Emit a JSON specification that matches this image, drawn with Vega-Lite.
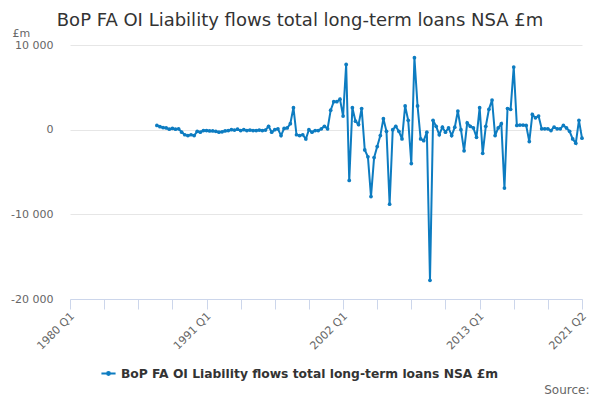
{
  "$schema": "https://vega.github.io/schema/vega-lite/v6.json",
  "width": 512,
  "height": 254,
  "autosize": {"type": "none"},
  "padding": {"left": 70, "top": 45, "right": 18, "bottom": 101},
  "background": "white",
  "config": {"view": {"stroke": null}, "font": "DejaVu Sans"},
  "title": {
    "text": "BoP FA OI Liability flows total long-term loans NSA £m",
    "font": "DejaVu Sans", "fontSize": 18, "fontWeight": "normal", "color": "#333333",
    "anchor": "middle", "frame": "group", "dx": -26, "offset": -3
  },
  "data": {"values": [
    {"date":"1987-01-01","value":500},{"date":"1987-04-01","value":350},{"date":"1987-07-01","value":250},{"date":"1987-10-01","value":200},
    {"date":"1988-01-01","value":50},{"date":"1988-04-01","value":150},{"date":"1988-07-01","value":50},{"date":"1988-10-01","value":100},
    {"date":"1989-01-01","value":-300},{"date":"1989-04-01","value":-600},{"date":"1989-07-01","value":-700},{"date":"1989-10-01","value":-600},
    {"date":"1990-01-01","value":-700},{"date":"1990-04-01","value":-200},{"date":"1990-07-01","value":-300},{"date":"1990-10-01","value":-100},
    {"date":"1991-01-01","value":-100},{"date":"1991-04-01","value":-150},{"date":"1991-07-01","value":-150},{"date":"1991-10-01","value":-200},
    {"date":"1992-01-01","value":-300},{"date":"1992-04-01","value":-250},{"date":"1992-07-01","value":-150},{"date":"1992-10-01","value":-100},
    {"date":"1993-01-01","value":0},{"date":"1993-04-01","value":-50},{"date":"1993-07-01","value":50},{"date":"1993-10-01","value":-100},
    {"date":"1994-01-01","value":0},{"date":"1994-04-01","value":-100},{"date":"1994-07-01","value":-50},{"date":"1994-10-01","value":-100},
    {"date":"1995-01-01","value":-100},{"date":"1995-04-01","value":-50},{"date":"1995-07-01","value":-100},{"date":"1995-10-01","value":-50},
    {"date":"1996-01-01","value":400},{"date":"1996-04-01","value":-300},{"date":"1996-07-01","value":0},{"date":"1996-10-01","value":100},
    {"date":"1997-01-01","value":-700},{"date":"1997-04-01","value":150},{"date":"1997-07-01","value":200},{"date":"1997-10-01","value":700},
    {"date":"1998-01-01","value":2600},{"date":"1998-04-01","value":-600},{"date":"1998-07-01","value":-700},{"date":"1998-10-01","value":-600},
    {"date":"1999-01-01","value":-1100},{"date":"1999-04-01","value":0},{"date":"1999-07-01","value":-300},{"date":"1999-10-01","value":-100},
    {"date":"2000-01-01","value":-100},{"date":"2000-04-01","value":100},{"date":"2000-07-01","value":400},{"date":"2000-10-01","value":100},
    {"date":"2001-01-01","value":2300},{"date":"2001-04-01","value":3300},{"date":"2001-07-01","value":3300},{"date":"2001-10-01","value":3600},
    {"date":"2002-01-01","value":1600},{"date":"2002-04-01","value":7700},{"date":"2002-07-01","value":-6000},{"date":"2002-10-01","value":2600},
    {"date":"2003-01-01","value":1000},{"date":"2003-04-01","value":600},{"date":"2003-07-01","value":2500},{"date":"2003-10-01","value":-2400},
    {"date":"2004-01-01","value":-3200},{"date":"2004-04-01","value":-7900},{"date":"2004-07-01","value":-3300},{"date":"2004-10-01","value":-2000},
    {"date":"2005-01-01","value":-700},{"date":"2005-04-01","value":1300},{"date":"2005-07-01","value":-200},{"date":"2005-10-01","value":-8800},
    {"date":"2006-01-01","value":0},{"date":"2006-04-01","value":400},{"date":"2006-07-01","value":-200},{"date":"2006-10-01","value":-1100},
    {"date":"2007-01-01","value":2800},{"date":"2007-04-01","value":1100},{"date":"2007-07-01","value":-4000},{"date":"2007-10-01","value":8500},
    {"date":"2008-01-01","value":2800},{"date":"2008-04-01","value":-1100},{"date":"2008-07-01","value":-1300},{"date":"2008-10-01","value":-300},
    {"date":"2009-01-01","value":-17800},{"date":"2009-04-01","value":1100},{"date":"2009-07-01","value":400},{"date":"2009-10-01","value":-600},
    {"date":"2010-01-01","value":300},{"date":"2010-04-01","value":-300},{"date":"2010-07-01","value":200},{"date":"2010-10-01","value":-700},
    {"date":"2011-01-01","value":300},{"date":"2011-04-01","value":2200},{"date":"2011-07-01","value":0},{"date":"2011-10-01","value":-2500},
    {"date":"2012-01-01","value":800},{"date":"2012-04-01","value":400},{"date":"2012-07-01","value":200},{"date":"2012-10-01","value":-900},
    {"date":"2013-01-01","value":2600},{"date":"2013-04-01","value":-2800},{"date":"2013-07-01","value":400},{"date":"2013-10-01","value":2400},
    {"date":"2014-01-01","value":3500},{"date":"2014-04-01","value":-700},{"date":"2014-07-01","value":200},{"date":"2014-10-01","value":700},
    {"date":"2015-01-01","value":-6900},{"date":"2015-04-01","value":2500},{"date":"2015-07-01","value":2400},{"date":"2015-10-01","value":7400},
    {"date":"2016-01-01","value":500},{"date":"2016-04-01","value":550},{"date":"2016-07-01","value":550},{"date":"2016-10-01","value":500},
    {"date":"2017-01-01","value":-1400},{"date":"2017-04-01","value":1800},{"date":"2017-07-01","value":1400},{"date":"2017-10-01","value":1600},
    {"date":"2018-01-01","value":100},{"date":"2018-04-01","value":100},{"date":"2018-07-01","value":100},{"date":"2018-10-01","value":-100},
    {"date":"2019-01-01","value":300},{"date":"2019-04-01","value":100},{"date":"2019-07-01","value":100},{"date":"2019-10-01","value":500},
    {"date":"2020-01-01","value":200},{"date":"2020-04-01","value":-200},{"date":"2020-07-01","value":-1100},{"date":"2020-10-01","value":-1600},
    {"date":"2021-01-01","value":1100},{"date":"2021-04-01","value":-1000}
  ]},
  "mark": {"type": "line", "point": {"filled": true, "size": 14}, "strokeWidth": 2},
  "encoding": {
    "x": {
      "field": "date", "type": "temporal",
      "scale": {"type": "utc", "domain": [{"year":1980,"month":1,"date":1,"utc":true},{"year":2021,"month":4,"date":1,"utc":true}]},
      "axis": {
        "title": "Source:", "titleFont": "DejaVu Sans", "titleFontSize": 12, "titleFontWeight": "normal",
        "titleColor": "#666666", "titleAlign": "right", "titleX": 519, "titleY": 94, "titleBaseline": "alphabetic",
        "values": [
          {"year":1980,"month":1,"date":1,"utc":true},{"year":1982,"month":10,"date":1,"utc":true},
          {"year":1985,"month":7,"date":1,"utc":true},{"year":1988,"month":4,"date":1,"utc":true},
          {"year":1991,"month":1,"date":1,"utc":true},{"year":1993,"month":10,"date":1,"utc":true},
          {"year":1996,"month":7,"date":1,"utc":true},{"year":1999,"month":4,"date":1,"utc":true},
          {"year":2002,"month":1,"date":1,"utc":true},{"year":2004,"month":10,"date":1,"utc":true},
          {"year":2007,"month":7,"date":1,"utc":true},{"year":2010,"month":4,"date":1,"utc":true},
          {"year":2013,"month":1,"date":1,"utc":true},{"year":2015,"month":10,"date":1,"utc":true},
          {"year":2018,"month":7,"date":1,"utc":true},{"year":2021,"month":4,"date":1,"utc":true}
        ],
        "labelExpr": "((utcmonth(datum.value)==0 && indexof([1980,1991,2002,2013], utcyear(datum.value))>=0) || (utcyear(datum.value)==2021 && utcmonth(datum.value)==3)) ? utcFormat(datum.value,'%Y') + ' Q' + utcquarter(datum.value) : ''",
        "labelAngle": -45, "labelFont": "DejaVu Sans", "labelFontSize": 11, "labelColor": "#666666",
        "labelOverlap": false, "labelBound": false, "labelFlush": false, "labelPadding": 1, "labelOffset": -2,
        "domainColor": "#ccd6eb", "tickColor": "#ccd6eb", "tickSize": 10, "grid": false
      }
    },
    "y": {
      "field": "value", "type": "quantitative",
      "scale": {"domain": [-20000, 10000], "nice": false, "zero": false},
      "axis": {
        "title": "£m", "titleAngle": 0, "titleAlign": "left", "titleX": -58, "titleY": -12, "titleBaseline": "middle",
        "titleFont": "DejaVu Sans", "titleFontSize": 11, "titleFontWeight": "normal", "titleColor": "#666666",
        "values": [-20000, -10000, 0, 10000],
        "labelExpr": "(datum.value < 0 ? '-' : '') + replace(format(abs(datum.value), ','), ',', ' ')",
        "labelFont": "DejaVu Sans", "labelFontSize": 11, "labelColor": "#666666",
        "ticks": false, "domain": false, "gridColor": "#e6e6e6", "labelPadding": 17
      }
    },
    "color": {
      "datum": "BoP FA OI Liability flows total long-term loans NSA £m", "type": "nominal",
      "scale": {"range": ["#0d7cc1"]},
      "legend": {
        "orient": "none", "legendX": 30, "legendY": 320, "title": null,
        "labelFont": "DejaVu Sans", "labelFontSize": 12.3, "labelFontWeight": "bold", "labelColor": "#333333",
        "symbolType": "M-1,0H1M-0.2,0A0.2,0.2 0 1,0 0.2,0A0.2,0.2 0 1,0 -0.2,0Z",
        "symbolFillColor": "#0d7cc1", "symbolStrokeColor": "#0d7cc1",
        "symbolStrokeWidth": 2, "symbolSize": 200, "labelLimit": 500
      }
    }
  }
}
